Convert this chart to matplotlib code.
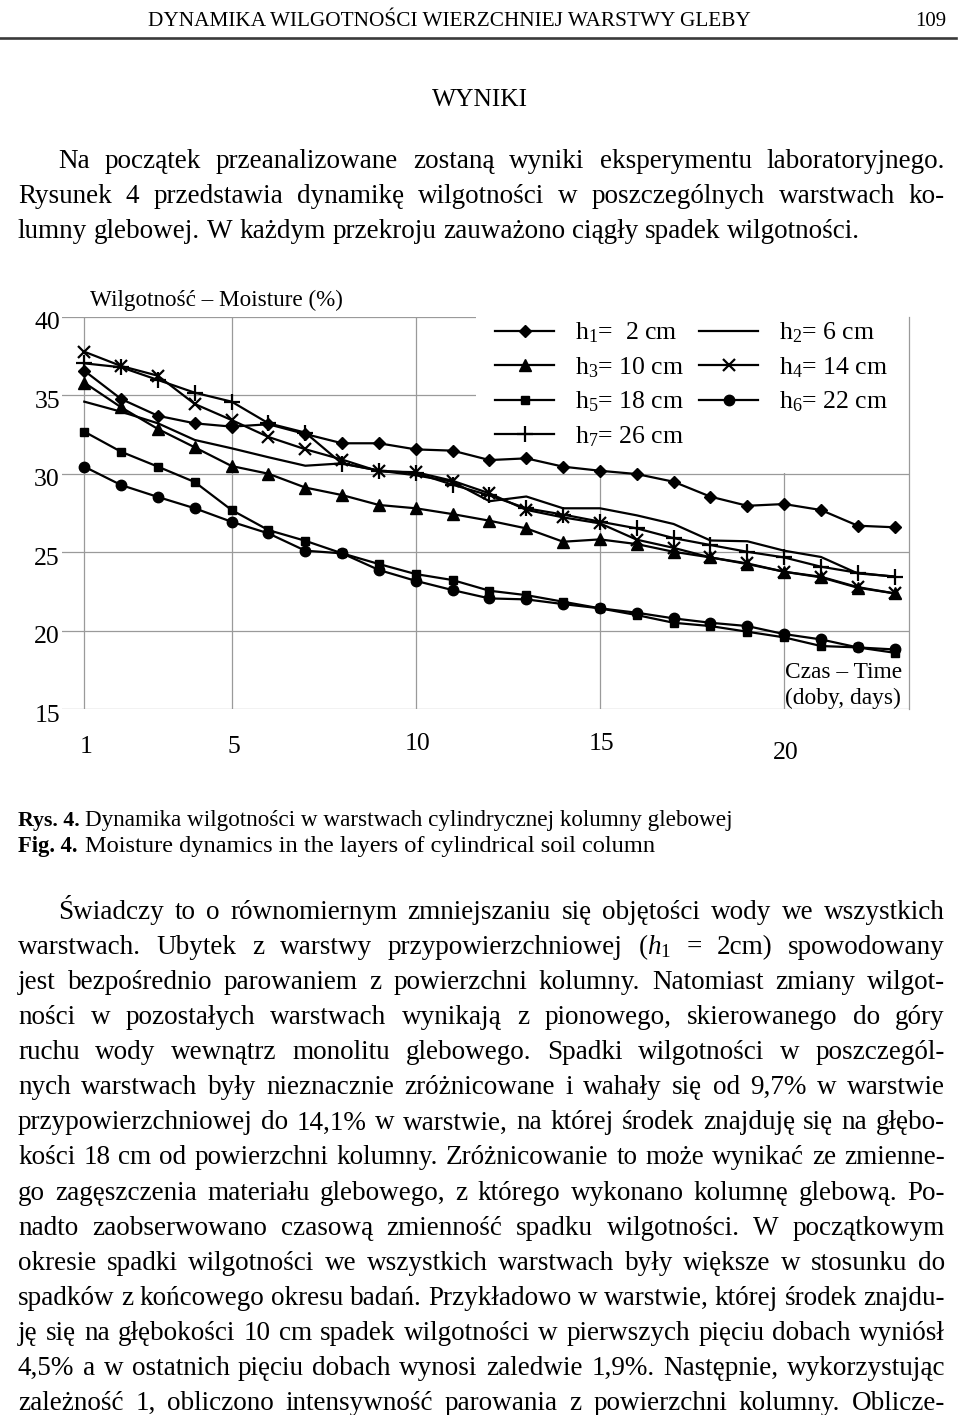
import matplotlib
matplotlib.use('Agg')
import matplotlib.pyplot as plt
from matplotlib.lines import Line2D
from matplotlib.patches import Rectangle
import matplotlib.transforms as mtransforms

plt.rcParams['font.family'] = ['Liberation Serif', 'DejaVu Serif']
plt.rcParams['mathtext.fontset'] = 'custom'
plt.rcParams['mathtext.rm'] = 'Liberation Serif'
plt.rcParams['mathtext.it'] = 'Liberation Serif:italic'
plt.rcParams['mathtext.bf'] = 'Liberation Serif:bold'

# ---------------- data ----------------
days = list(range(1, 24))
h1 = [36.56, 34.76, 33.69, 33.21, 33.0, 33.15, 32.53, 31.94, 31.94, 31.55, 31.47, 30.87,
      30.98, 30.45, 30.19, 29.98, 29.49, 28.54, 27.96, 28.07, 27.69, 26.69, 26.59]
h2 = [34.59, 33.95, 33.21, 32.15, 31.62, 31.05, 30.51, 30.66, 30.2, 29.9, 29.49, 28.25,
      28.55, 27.8, 27.8, 27.35, 26.8, 25.75, 25.7, 25.1, 24.7, 23.65, 23.46]
h3 = [35.8, 34.23, 32.85, 31.68, 30.49, 30.0, 29.12, 28.64, 28.01, 27.8, 27.43, 27.01,
      26.52, 25.67, 25.82, 25.52, 25.03, 24.67, 24.25, 23.76, 23.40, 22.74, 22.38]
h4 = [37.77, 36.86, 36.24, 34.44, 33.42, 32.34, 31.56, 30.9, 30.15, 30.1, 29.55, 28.75,
      27.7, 27.22, 26.84, 25.8, 25.28, 24.67, 24.29, 23.76, 23.44, 22.78, 22.38]
h5 = [32.68, 31.4, 30.45, 29.47, 27.69, 26.41, 25.73, 24.93, 24.25, 23.61, 23.23, 22.55,
      22.27, 21.85, 21.43, 21.0, 20.51, 20.3, 19.94, 19.58, 19.03, 18.94, 18.6]
h6 = [30.45, 29.28, 28.52, 27.8, 26.94, 26.2, 25.1, 24.93, 23.87, 23.18, 22.59, 22.06,
      22.0, 21.7, 21.43, 21.15, 20.79, 20.51, 20.3, 19.79, 19.45, 18.94, 18.81]
h7 = [37.03, 36.78, 35.97, 35.16, 34.59, 33.21, 32.62, 30.64, 30.2, 30.05, 29.3, 28.62,
      27.8, 27.4, 26.95, 26.52, 25.9, 25.46, 25.03, 24.67, 24.08, 23.69, 23.44]

series_labels = ['h$_1$=  2 cm', 'h$_2$= 6 cm', 'h$_3$= 10 cm', 'h$_4$= 14 cm',
                 'h$_5$= 18 cm', 'h$_6$= 22 cm', 'h$_7$= 26 cm']
x_ticks = [1, 5, 10, 15, 20]
x_tick_labels = ['1', '5', '10', '15', '20']
y_ticks = [15, 20, 25, 30, 35, 40]
y_tick_labels = ['15', '20', '25', '30', '35', '40']

header = 'DYNAMIKA WILGOTNOŚCI WIERZCHNIEJ WARSTWY GLEBY'
page_no = '109'
section = 'WYNIKI'
para1 = [
    'Na początek przeanalizowane zostaną wyniki eksperymentu laboratoryjnego.',
    'Rysunek 4 przedstawia dynamikę wilgotności w poszczególnych warstwach ko-',
    'lumny glebowej. W każdym przekroju zauważono ciągły spadek wilgotności.',
]
para2 = [
    'Świadczy to o równomiernym zmniejszaniu się objętości wody we wszystkich',
    'warstwach. Ubytek z warstwy przypowierzchniowej ($h_1$ = 2cm) spowodowany',
    'jest bezpośrednio parowaniem z powierzchni kolumny. Natomiast zmiany wilgot-',
    'ności w pozostałych warstwach wynikają z pionowego, skierowanego do góry',
    'ruchu wody wewnątrz monolitu glebowego. Spadki wilgotności w poszczegól-',
    'nych warstwach były nieznacznie zróżnicowane i wahały się od 9,7% w warstwie',
    'przypowierzchniowej do 14,1% w warstwie, na której środek znajduję się na głębo-',
    'kości 18 cm od powierzchni kolumny. Zróżnicowanie to może wynikać ze zmienne-',
    'go zagęszczenia materiału glebowego, z którego wykonano kolumnę glebową. Po-',
    'nadto zaobserwowano czasową zmienność spadku wilgotności. W początkowym',
    'okresie spadki wilgotności we wszystkich warstwach były większe w stosunku do',
    'spadków z końcowego okresu badań. Przykładowo w warstwie, której środek znajdu-',
    'ję się na głębokości 10 cm spadek wilgotności w pierwszych pięciu dobach wyniósł',
    '4,5% a w ostatnich pięciu dobach wynosi zaledwie 1,9%. Następnie, wykorzystując',
    'zależność 1, obliczono intensywność parowania z powierzchni kolumny. Oblicze-',
]

# ---------------- figure ----------------
W, H = 960, 1415
fig = plt.figure(figsize=(9.6, 14.15), dpi=100)
renderer = fig.canvas.get_renderer()


def put(s, x, y, size, ha='left', weight='normal', **kw):
    return fig.text(x / W, 1 - y / H, s, fontsize=size, ha=ha, va='baseline',
                    fontweight=weight, **kw)


def wid(t):
    return t.get_window_extent(renderer).width


def fit(s, x0, x1, y, size0=20, weight='normal'):
    t = put(s, x0, y, size0, weight=weight)
    t.set_fontsize(size0 * (x1 - x0) / wid(t))
    return t


def measure_words(line, size):
    out = []
    for w in line.split(' '):
        t = put(w, 0, 0, size)
        out.append(wid(t))
        t.remove()
    return out


def justify(line, x0, x1, y, size, natural=False):
    words = line.split(' ')
    ts = [put(w, x0, y, size) for w in words]
    ws = [wid(t) for t in ts]
    if natural or len(words) == 1:
        gap = size * 100 / 72 * 0.25
    else:
        gap = (x1 - x0 - sum(ws)) / (len(words) - 1)
    x = x0
    for t, w in zip(ts, ws):
        t.set_x(x / W)
        x += w + gap


# header
fit(header, 148, 752, 26)
put(page_no, 946, 26, 15, ha='right')
fig.add_artist(Line2D([0 / W, 956 / W], [1 - 38 / H, 1 - 38 / H], color='#3a3a3a', lw=1.9))
fit(section, 432, 528, 106)

# body font size: largest size that lets every justified line fit
S0 = 20
ratios = []
for i, line in enumerate(para1[:2] + para2):
    x0 = 58 if (i == 0 or i == 2) else 18
    ws = measure_words(line, S0)
    nat = sum(ws) + (len(ws) - 1) * 0.2 * S0 * 100 / 72
    ratios.append((945 - x0) / nat)
BODY = min(19.5, S0 * min(ratios))

for i, line in enumerate(para1):
    x0 = 58 if i == 0 else 18
    justify(line, x0, 945, 168 + 35 * i, BODY, natural=(i == 2))
for i, line in enumerate(para2):
    x0 = 58 if i == 0 else 18
    justify(line, x0, 945, 919 + 35.07 * i, BODY)

# caption
fit('Rys. 4.', 18, 80, 826, weight='bold')
fit('Dynamika wilgotności w warstwach cylindrycznej kolumny glebowej', 85, 733, 826)
fit('Fig. 4.', 18, 78, 852, weight='bold')
fit('Moisture dynamics in the layers of cylindrical soil column', 85, 655, 852)

# ---------------- chart ----------------
ax_l, ax_r, ax_t, ax_b = 62, 909, 316.7, 709.3
ax = fig.add_axes([ax_l / W, 1 - ax_b / H, (ax_r - ax_l) / W, (ax_b - ax_t) / H])
ax.set_xlim(0.395, 23.39)
ax.set_ylim(15, 40)
ax.set_axisbelow(True)
ax.set_xticks(x_ticks)
ax.set_xticklabels(x_tick_labels, fontsize=18.5)
ax.set_yticks(y_ticks)
ax.set_yticklabels(y_tick_labels, fontsize=18.5)
ax.tick_params(axis='both', length=0)
ax.tick_params(axis='x', pad=19)
ax.tick_params(axis='y', pad=1.5)
ax.grid(True, color='#9a9a9a', lw=0.9)
for side in ['left', 'bottom', 'top']:
    ax.spines[side].set_visible(False)
ax.spines['right'].set_color('#9a9a9a')
ax.spines['right'].set_linewidth(0.9)

dpi_tr = fig.dpi_scale_trans
for lab in ax.get_yticklabels():
    lab.set_transform(lab.get_transform() + mtransforms.ScaledTranslation(0, -4 / 100, dpi_tr))
for lab in ax.get_xticklabels():
    extra = -6 / 100 if lab.get_text() == '20' else (3 / 100 if lab.get_text() in ('10', '15') else 0)
    lab.set_transform(lab.get_transform() + mtransforms.ScaledTranslation(2 / 100, extra, dpi_tr))

# white legend area (hides gridlines, lines pass over it)
ax.add_patch(Rectangle((0.489, 0.603), 0.511, 0.395, transform=ax.transAxes,
                       facecolor='white', edgecolor='none', zorder=1))

lw = 1.6
st = dict(color='black', lw=lw, zorder=3)
l1, = ax.plot(days, h1, marker='D', ms=6.5, **st)
l2, = ax.plot(days, h2, **st)
l3, = ax.plot(days, h3, marker='^', ms=8, **st)
l4, = ax.plot(days, h4, marker='x', ms=9, mew=1.6, **st)
l5, = ax.plot(days, h5, marker='s', ms=6, **st)
l6, = ax.plot(days, h6, marker='o', ms=7.5, **st)
l7, = ax.plot(days, h7, marker='+', ms=11, mew=1.6, **st)

handles = [l1, l3, l5, l7, l2, l4, l6]
labels = [series_labels[0], series_labels[2], series_labels[4], series_labels[6],
          series_labels[1], series_labels[3], series_labels[5]]
leg = fig.legend(handles, labels, ncol=2, loc='upper left',
                 bbox_to_anchor=(495 / W, 1 - 320.5 / H), frameon=False,
                 fontsize=18.5, handlelength=2.3, handletextpad=0.8,
                 columnspacing=0.6, labelspacing=0.39, borderpad=0,
                 borderaxespad=0, numpoints=1)

ax.text(0, 1, 'Wilgotność – Moisture (%)', transform=ax.transAxes, fontsize=16.7,
        ha='left', va='baseline')
ax.texts[-1].set_transform(ax.transAxes + mtransforms.ScaledTranslation(28 / 100, 10.5 / 100, dpi_tr))
fig.text(785 / W, 1 - 678 / H, 'Czas – Time', fontsize=16.8, ha='left', va='baseline')
fig.text(785 / W, 1 - 704 / H, '(doby, days)', fontsize=16.8, ha='left', va='baseline')

fig.savefig('out.png', dpi=100)
